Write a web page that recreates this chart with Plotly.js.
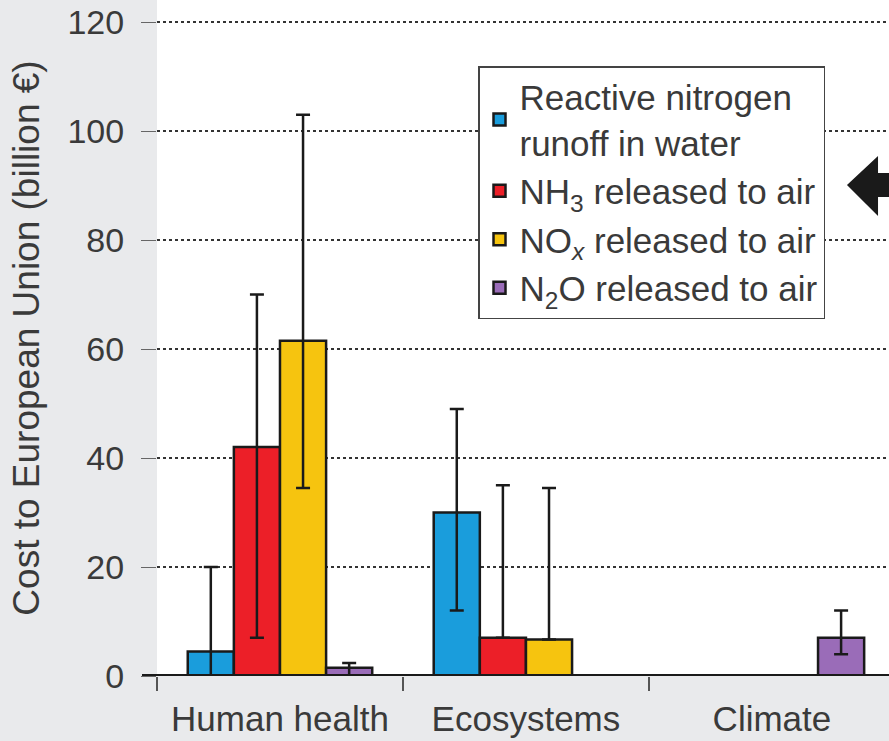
<!DOCTYPE html>
<html>
<head>
<meta charset="utf-8">
<script src="https://cdn.plot.ly/plotly-3.0.1.min.js"></script>
<style>html,body{margin:0;padding:0;background:#e9eaec;}#chart{width:889px;height:741px;}</style>
</head>
<body>
<div id="chart"></div>
<script>
// Categories and their positions on the numeric x axis
const categories = ["Human health", "Ecosystems", "Climate"];
const catPos = [0, 1, 2];
const boundaryPos = [-0.5, 0.5, 1.5];

// Series names
const seriesNames = [
  "Reactive nitrogen<br>runoff in water",
  "NH<sub>3</sub> released to air",
  "NO<sub><i>x</i></sub> released to air",
  "N<sub>2</sub>O released to air"
];
const seriesColors = ["#1a9ddc", "#ec1f28", "#f6c40f", "#9a6cb8"];

// Values (billion €) per category; null = no bar
const runoffValues = [4.5, 30, null];
const runoffPlus   = [15.5, 19, null];
const runoffMinus  = [4.5, 18, null];

const nh3Values = [42, 7, null];
const nh3Plus   = [28, 28, null];
const nh3Minus  = [35, 0, null];

const noxValues = [61.5, 6.7, null];
const noxPlus   = [41.5, 27.8, null];
const noxMinus  = [27, 0, null];

const n2oValues = [1.5, null, 7];
const n2oPlus   = [0.9, null, 5];
const n2oMinus  = [1.5, null, 3];

const yTicks = [0, 20, 40, 60, 80, 100, 120];

const values = [runoffValues, nh3Values, noxValues, n2oValues];
const plus = [runoffPlus, nh3Plus, noxPlus, n2oPlus];
const minus = [runoffMinus, nh3Minus, noxMinus, n2oMinus];

const traces = values.map((v, i) => ({
  type: "bar",
  name: seriesNames[i],
  x: catPos,
  y: v,
  marker: { color: seriesColors[i], line: { color: "#1a1a1a", width: 2.5 } },
  error_y: {
    type: "data", symmetric: false,
    array: plus[i], arrayminus: minus[i],
    color: "#1a1a1a", thickness: 2.5, width: 7
  },
  hoverinfo: "skip"
}));

const W = 889, H = 741, mL = 157, mR = 0, mT = 0, mB = 65;
const plotW = W - mL - mR, plotH = H - mT - mB;
const px = x => (x - mL) / plotW;
const py = y => 1 - (y - mT) / plotH;

const arrowPts = [[847,185],[878,156],[878,173],[892,173],[892,197],[878,197],[878,216]];
const arrowPath = "M " + arrowPts.map(p => px(p[0]).toFixed(4) + "," + py(p[1]).toFixed(4)).join(" L ") + " Z";

const layout = {
  width: W, height: H,
  margin: { l: mL, r: mR, t: mT, b: mB },
  paper_bgcolor: "#e9eaec",
  plot_bgcolor: "#ffffff",
  font: { family: "Liberation Sans, Arial, sans-serif", color: "#3a3a3a" },
  barmode: "group",
  bargap: 0.25,
  bargroupgap: 0,
  showlegend: true,
  legend: {
    x: px(478), y: py(66), xanchor: "left", yanchor: "top",
    bgcolor: "#ffffff", bordercolor: "#444444", borderwidth: 1.5,
    font: { size: 35, color: "#3a3a3a", family: "Liberation Sans, Arial, sans-serif" },
    traceorder: "normal", tracegroupgap: 0
  },
  xaxis: {
    type: "linear",
    range: [-0.5, 2.476],
    tickmode: "array", tickvals: catPos, ticktext: categories,
    ticks: "", showgrid: false, zeroline: false, showline: false,
    ticklabelstandoff: 19,
    tickfont: { size: 35, color: "#3a3a3a" },
    minor: { tickmode: "array", tickvals: boundaryPos, ticks: "outside", ticklen: 14, tickwidth: 1.5, tickcolor: "#555555", showgrid: false },
    fixedrange: true
  },
  yaxis: {
    range: [0, 124.05],
    tickmode: "array", tickvals: yTicks,
    ticks: "outside", ticklen: 15, tickwidth: 1, tickcolor: "#666666",
    ticklabelstandoff: 10,
    tickfont: { size: 34, color: "#3a3a3a" },
    showgrid: true, gridcolor: "#333333", gridwidth: 1.5, griddash: "dot",
    zeroline: false, showline: false,
    title: { text: "Cost to European Union (billion €)", font: { size: 37, color: "#3a3a3a" }, standoff: 16 },
    fixedrange: true
  },
  shapes: [
    { type: "line", xref: "paper", yref: "y", x0: px(142), x1: 1.01, y0: 0, y1: 0,
      line: { color: "#1a1a1a", width: 4 }, layer: "above" },
    { type: "path", xref: "paper", yref: "paper", path: arrowPath,
      fillcolor: "#1a1a1a", line: { color: "#1a1a1a", width: 0 }, layer: "above" }
  ]
};

Plotly.newPlot("chart", traces, layout, { displayModeBar: false, staticPlot: true });
</script>
</body>
</html>
